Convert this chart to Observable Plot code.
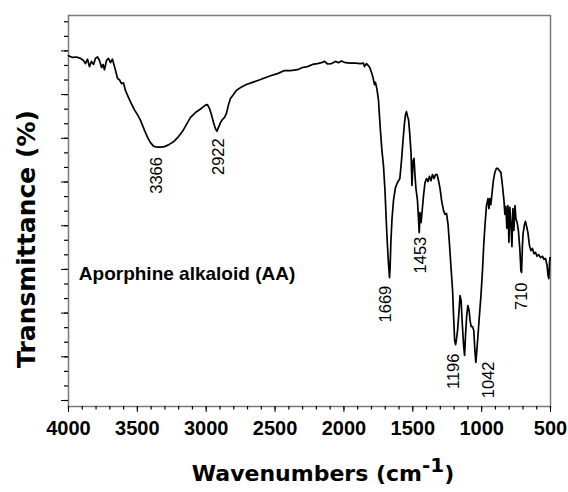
<!DOCTYPE html>
<html>
<head>
<meta charset="utf-8">
<script src="https://cdn.jsdelivr.net/npm/d3@7"></script>
<script src="https://cdn.jsdelivr.net/npm/@observablehq/plot@0.6"></script>
<style>
  html, body { margin: 0; padding: 0; background: #ffffff; }
</style>
</head>
<body>
<div id="chart"></div>
<script>
// ---- data ----
const wavenumber = [4000,3971,3942,3913,3891,3877,3862,3848,3833,3818,3804,3789,3775,3760,3749,3739,3724,3710,3695,3681,3666,3655,3644,3630,3615,3601,3586,3564,3543,3521,3499,3477,3448,3426,3405,3383,3361,3332,3303,3274,3238,3201,3172,3143,3114,3078,3041,3005,2991,2976,2962,2947,2933,2922,2911,2896,2882,2867,2853,2838,2824,2802,2780,2751,2708,2664,2620,2577,2533,2482,2432,2388,2337,2301,2265,2228,2192,2163,2141,2119,2090,2061,2039,2018,1989,1952,1916,1880,1858,1851,1836,1814,1800,1789,1778,1771,1760,1749,1742,1735,1724,1713,1702,1691,1684,1677,1669,1665,1659,1651,1640,1626,1611,1594,1582,1571,1560,1553,1546,1538,1531,1524,1513,1506,1498,1491,1484,1477,1466,1453,1448,1440,1432,1422,1411,1400,1389,1379,1368,1357,1346,1335,1323,1313,1302,1291,1277,1266,1255,1244,1233,1222,1211,1204,1196,1189,1182,1175,1165,1157,1149,1141,1131,1124,1117,1109,1100,1091,1084,1076,1066,1057,1049,1042,1035,1026,1016,1005,994,985,976,965,954,947,940,933,924,915,904,893,882,871,860,849,838,831,824,817,809,802,795,788,780,773,766,758,751,742,733,722,715,710,704,699,689,682,673,664,653,642,631,620,609,598,587,573,558,547,536,525,518,512,507,503];
const transmittance = [78.9,78.5,78.6,78.3,77.8,77.1,78.1,76.4,77.6,76.9,78.3,78.6,77.8,76.2,76.9,75.7,77.8,78.3,77.3,78.1,76.4,75.1,73.7,73.4,72.5,72.7,70.9,69.3,67.9,66.5,65.4,64.1,61.8,60.2,59.0,58.2,58.0,58.0,58.1,58.5,59.2,60.4,61.6,63.2,64.8,65.9,66.7,67.6,67.7,66.8,65.4,63.6,62.2,61.6,62.5,63.6,64.3,64.8,65.7,67.7,69.1,70.0,71.0,71.6,72.3,72.8,73.3,73.8,74.3,74.8,75.5,75.5,75.7,76.2,76.4,76.9,77.1,77.3,77.6,77.0,77.1,77.6,77.3,77.7,77.3,77.2,77.2,77.1,77.2,76.4,77.1,76.3,75.1,73.9,72.3,72.8,71.2,68.7,65.2,61.8,57.2,53.8,48.1,40.0,35.5,31.6,28.1,30.2,36.3,41.6,45.8,48.7,49.9,50.8,54.9,59.5,63.6,65.4,66.1,65.0,64.3,61.8,56.8,49.2,54.9,55.4,51.5,48.5,45.8,38.4,43.0,40.7,43.3,46.9,49.9,50.8,50.1,51.3,50.3,51.7,50.8,51.7,51.7,50.3,48.5,45.8,43.5,42.6,42.8,40.3,35.5,30.2,25.2,19.5,13.7,12.8,14.2,16.0,20.1,24.0,22.9,17.8,12.6,10.3,14.9,19.2,21.7,20.6,18.3,16.9,16.9,16.0,11.4,8.7,11.4,15.1,19.5,24.0,29.7,35.5,40.0,44.6,46.2,43.9,46.2,44.8,47.6,50.3,52.2,53.1,53.1,52.6,52.2,49.2,45.8,42.6,44.4,39.4,44.6,36.2,44.2,40.7,35.2,43.9,38.9,44.6,41.6,40.7,38.9,34.3,29.7,29.3,35.5,38.2,40.3,41.0,39.8,38.4,35.5,34.3,34.8,33.6,33.9,33.0,33.4,32.7,33.0,32.3,32.5,30.9,28.6,27.9,31.6,32.7];
const peakLabels = ["3366", "2922", "1669", "1453", "1196", "1042", "710"];
const peakWavenumbers = [3366, 2922, 1669, 1453, 1196, 1042, 710];
const xTickValues = [4000, 3500, 3000, 2500, 2000, 1500, 1000, 500];
const sampleName = "Aporphine alkaloid (AA)";
const xLabel = "Wavenumbers (cm-1)";
const yLabel = "Transmittance (%)";

// ---- build ----
const spectrum = wavenumber.map((w, i) => ({w, t: transmittance[i]}));
const minorX = d3.range(500, 4001, 100);
const majorY = d3.range(0, 81, 10);
const minorY = d3.range(0, 88, 10 / 3);
const xDomain = [4000, 500];
const yDomain = [-1.37, 88.1];

const width = 568, height = 492;
const margin = {left: 68, right: 18, top: 15, bottom: 86};
// data units per pixel, used to size the short minor ticks outside the frame
const xPerPx = (xDomain[0] - xDomain[1]) / (width - margin.left - margin.right);
const yPerPx = (yDomain[1] - yDomain[0]) / (height - margin.top - margin.bottom);

// lowest transmittance near each labelled band (label hangs below it)
const peakMin = peakWavenumbers.map(p =>
  d3.min(spectrum.filter(d => Math.abs(d.w - p) <= 12), d => d.t));
const nudge = [[1, 10], [2, 7], [-4, 8], [1, 4], [-1, 9], [13, -1], [0, 10]];

const sans = "'Liberation Sans', Arial, Helvetica, sans-serif";
const heavy = "'DejaVu Sans', 'Liberation Sans', sans-serif";

const chart = Plot.plot({
  width, height,
  marginLeft: margin.left,
  marginRight: margin.right,
  marginTop: margin.top,
  marginBottom: margin.bottom,
  style: {background: "#ffffff", fontFamily: sans, color: "#000", overflow: "visible"},
  x: {domain: xDomain, ticks: xTickValues, tickSize: 6, tickPadding: 8,
      tickFormat: d => String(d), label: null, line: true},
  y: {domain: yDomain, ticks: majorY, tickSize: 7, tickFormat: () => "", label: null, line: true},
  marks: [
    Plot.frame({stroke: "#7a7a7a", strokeWidth: 1.5}),
    Plot.ruleY(minorY, {y: d => d, x1: xDomain[0], x2: xDomain[0] + 4 * xPerPx, stroke: "#000", strokeWidth: 1.2}),
    Plot.ruleX(minorX, {x: d => d, y1: yDomain[0], y2: yDomain[0] - 3.5 * yPerPx, stroke: "#000", strokeWidth: 1.2}),
    Plot.line(spectrum, {x: "w", y: "t", stroke: "#000", strokeWidth: 1.7}),
    ...peakLabels.map((lab, i) => Plot.text([lab], {
      x: () => peakWavenumbers[i], y: () => peakMin[i], text: d => d,
      rotate: -90, textAnchor: "end", dx: nudge[i][0], dy: nudge[i][1],
      fontSize: 16.5, fontFamily: sans, fill: "#000"
    })),
    Plot.text([sampleName], {x: () => 3925, y: () => 28.9, text: d => d, textAnchor: "start",
      fontSize: 19, fontWeight: "bold", fontFamily: sans, fill: "#000"}),
    Plot.text([yLabel], {frameAnchor: "left", text: d => d, rotate: -90, dx: -42, dy: 28,
      textAnchor: "middle", lineAnchor: "middle",
      fontSize: 25, fontWeight: "bold", fontFamily: heavy, fill: "#000"}),
    Plot.text([xLabel], {frameAnchor: "bottom", text: d => d, dx: 13.5, dy: 67,
      textAnchor: "middle", lineAnchor: "middle",
      fontSize: 22, fontWeight: "bold", fontFamily: heavy, fill: "#000"})
  ]
});

document.getElementById("chart").appendChild(chart);

const svg = d3.select(chart);
// axis styling: bold tick labels on x, black axis strokes
svg.selectAll('[aria-label="x-axis"] text, [aria-label="x-axis tick label"] text')
  .style("font-size", "20px").style("font-weight", "bold").style("font-family", sans).attr("fill", "#000");
svg.selectAll('[aria-label="x-axis"] line, [aria-label="x-axis"] path, [aria-label="y-axis"] line, [aria-label="y-axis"] path')
  .attr("stroke", "#000").attr("stroke-width", 1.2);

// superscript in the x-axis title
svg.selectAll("text").filter(function() { return this.textContent === xLabel; })
  .each(function() {
    const t = d3.select(this);
    t.text(null);
    t.append("tspan").text("Wavenumbers (cm");
    t.append("tspan").attr("dy", -9).attr("font-size", 20).text("-1");
    t.append("tspan").attr("dy", 9).attr("font-size", 22).text(")");
  });
</script>
</body>
</html>
